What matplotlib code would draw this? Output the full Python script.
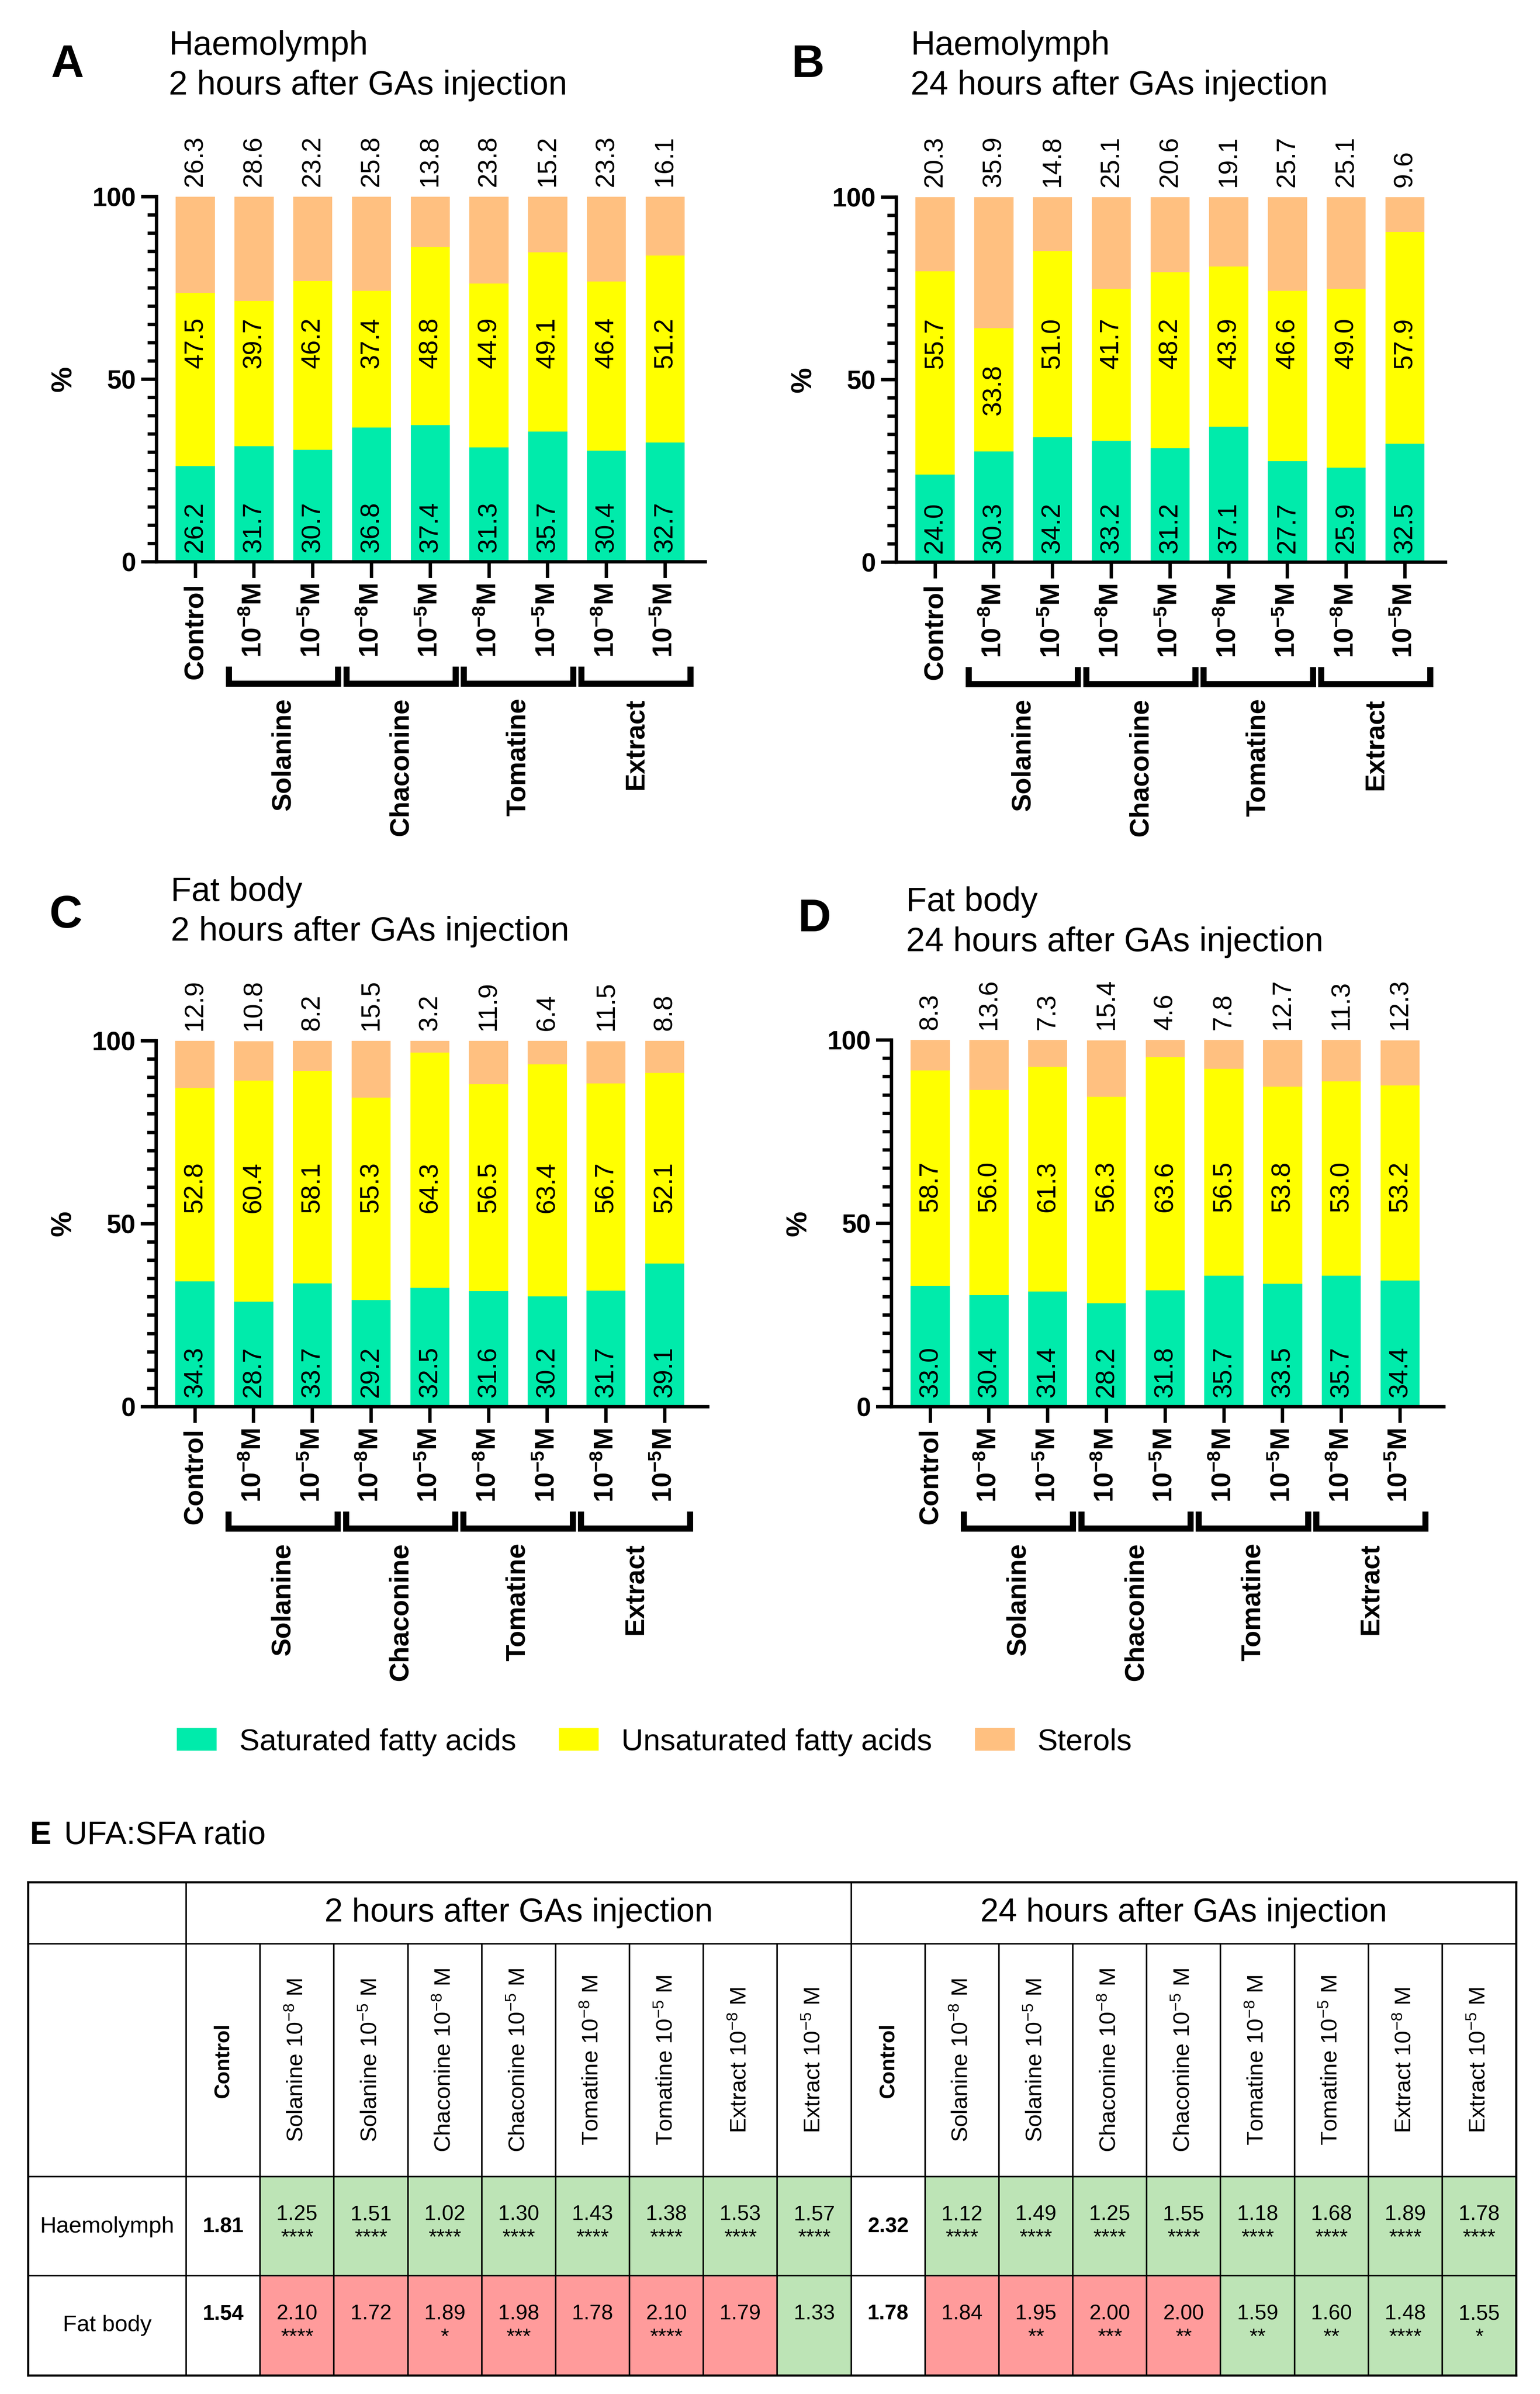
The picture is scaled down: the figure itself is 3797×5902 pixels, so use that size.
import numpy as np
import matplotlib
matplotlib.use('Agg')
import matplotlib.pyplot as plt
from matplotlib.patches import Patch, Rectangle
from matplotlib.ticker import MultipleLocator
from matplotlib.transforms import blended_transform_factory

plt.rcParams['font.family'] = 'Liberation Sans'
plt.rcParams['mathtext.fontset'] = 'custom'
plt.rcParams['mathtext.rm'] = 'Liberation Sans'
plt.rcParams['mathtext.bf'] = 'Liberation Sans:bold'
plt.rcParams['mathtext.it'] = 'Liberation Sans:italic'

# --- DATA ---
tick_labels = ['Control'] + [r'$\mathbf{10^{-8}M}$', r'$\mathbf{10^{-5}M}$'] * 4
groups = ['Solanine', 'Chaconine', 'Tomatine', 'Extract']

# A: haemolymph, 2 h
sfa_a = [26.2, 31.7, 30.7, 36.8, 37.4, 31.3, 35.7, 30.4, 32.7]
ufa_a = [47.5, 39.7, 46.2, 37.4, 48.8, 44.9, 49.1, 46.4, 51.2]
ster_a = [26.3, 28.6, 23.2, 25.8, 13.8, 23.8, 15.2, 23.3, 16.1]
# B: haemolymph, 24 h
sfa_b = [24.0, 30.3, 34.2, 33.2, 31.2, 37.1, 27.7, 25.9, 32.5]
ufa_b = [55.7, 33.8, 51.0, 41.7, 48.2, 43.9, 46.6, 49.0, 57.9]
ster_b = [20.3, 35.9, 14.8, 25.1, 20.6, 19.1, 25.7, 25.1, 9.6]
# C: fat body, 2 h
sfa_c = [34.3, 28.7, 33.7, 29.2, 32.5, 31.6, 30.2, 31.7, 39.1]
ufa_c = [52.8, 60.4, 58.1, 55.3, 64.3, 56.5, 63.4, 56.7, 52.1]
ster_c = [12.9, 10.8, 8.2, 15.5, 3.2, 11.9, 6.4, 11.5, 8.8]
# D: fat body, 24 h
sfa_d = [33.0, 30.4, 31.4, 28.2, 31.8, 35.7, 33.5, 35.7, 34.4]
ufa_d = [58.7, 56.0, 61.3, 56.3, 63.6, 56.5, 53.8, 53.0, 53.2]
ster_d = [8.3, 13.6, 7.3, 15.4, 4.6, 7.8, 12.7, 11.3, 12.3]

# E: UFA:SFA ratio table
table_treatments = ['Solanine', 'Solanine', 'Chaconine', 'Chaconine',
                    'Tomatine', 'Tomatine', 'Extract', 'Extract']
table_doses = ['-8', '-5'] * 4
times = ['2 hours after GAs injection', '24 hours after GAs injection']
tissues = ['Haemolymph', 'Fat body']
ctrl_haemo = [1.81, 2.32]
ctrl_fat = [1.54, 1.78]
ratio_haemo_2h = [1.25, 1.51, 1.02, 1.30, 1.43, 1.38, 1.53, 1.57]
stars_haemo_2h = ['****'] * 8
ratio_haemo_24h = [1.12, 1.49, 1.25, 1.55, 1.18, 1.68, 1.89, 1.78]
stars_haemo_24h = ['****'] * 8
ratio_fat_2h = [2.10, 1.72, 1.89, 1.98, 1.78, 2.10, 1.79, 1.33]
stars_fat_2h = ['****', '', '*', '***', '', '****', '', '']
ratio_fat_24h = [1.84, 1.95, 2.00, 2.00, 1.59, 1.60, 1.48, 1.55]
stars_fat_24h = ['', '**', '***', '**', '**', '**', '****', '*']

C_SFA = '#00EBAB'
C_UFA = '#FFFF00'
C_STER = '#FFC080'
C_LOW = '#BDE4B6'
C_HIGH = '#FF9B9B'

# --- FIGURE (layout in pixel units of the 3797x5902 canvas) ---
W, H = 3797, 5902
DPI = 300
fig = plt.figure(figsize=(W / DPI, H / DPI), dpi=DPI)


def fx(px):
    return px / W


def fy(py):
    return 1 - py / H


BAR_STEP = 144.8  # px between bar centres


def draw_panel(box, sfa, ufa, ster):
    left, top, right, bottom = box
    ax = fig.add_axes([fx(left), fy(bottom), (right - left) / W, (bottom - top) / H])
    hpx = bottom - top
    x = np.arange(len(sfa))
    sfa = np.array(sfa)
    ufa = np.array(ufa)
    ster = np.array(ster)
    ax.bar(x, sfa, width=0.665, color=C_SFA, zorder=2)
    ax.bar(x, ufa, bottom=sfa, width=0.665, color=C_UFA, zorder=2)
    ax.bar(x, ster, bottom=sfa + ufa, width=0.665, color=C_STER, zorder=2)

    for i in range(len(x)):
        ax.text(x[i], 2.5, f'{sfa[i]:.1f}', rotation=90, ha='center', va='bottom', fontsize=15.5, zorder=3)
        top_u = sfa[i] + ufa[i]
        yu = 60 if top_u >= 68 else sfa[i] + ufa[i] / 2
        ax.text(x[i], yu, f'{ufa[i]:.1f}', rotation=90, ha='center', va='center', fontsize=15.5, zorder=3)
        ax.text(x[i], 102.8, f'{ster[i]:.1f}', rotation=90, ha='center', va='bottom', fontsize=15.5,
                clip_on=False)

    ax.set_ylim(0, 100)
    ax.set_xlim(-0.66, -0.66 + (right - left) / BAR_STEP)
    for s in ['top', 'right']:
        ax.spines[s].set_visible(False)
    for s in ['left', 'bottom']:
        ax.spines[s].set_linewidth(2)
        ax.spines[s].set_zorder(4)
    ax.spines['left'].set_bounds(0, 100)

    ax.set_yticks([0, 50, 100])
    ax.set_yticklabels(['0', '50', '100'], fontweight='bold', fontsize=15.5)
    ax.yaxis.set_minor_locator(MultipleLocator(5))
    ax.tick_params(axis='y', which='major', length=9.2, width=2, pad=3)
    ax.tick_params(axis='y', which='minor', length=5.2, width=2)
    ax.set_xticks(x)
    ax.set_xticklabels(tick_labels, rotation=90, fontweight='bold', fontsize=16)
    ax.tick_params(axis='x', length=9.6, width=2, pad=3.2)

    ax.text(-228 / (right - left), 0.5, '%', transform=ax.transAxes, rotation=90,
            ha='center', va='center', fontsize=17, fontweight='bold')

    trans = blended_transform_factory(ax.transData, ax.transAxes)
    yt = -258 / hpx
    yb = -300 / hpx
    for g, name in enumerate(groups):
        xa = 1 + 2 * g - 0.43
        xb = 2 + 2 * g + 0.43
        ax.plot([xa, xa, xb, xb], [yt, yb, yb, yt], transform=trans, clip_on=False,
                color='black', lw=3.6, solid_joinstyle='miter', solid_capstyle='butt')
        ax.text(1.5 + 2 * g, -336 / hpx, name, transform=trans, rotation=90,
                ha='center', va='top', fontsize=16, fontweight='bold')
    return ax


panels = [
    ('A', (125, 190), (416, 135, 233), ('Haemolymph', times[0]), (386, 485, 1739, 1385), sfa_a, ufa_a, ster_a),
    ('B', (1952, 190), (2245, 135, 233), ('Haemolymph', times[1]), (2210, 486, 3564, 1386), sfa_b, ufa_b, ster_b),
    ('C', (121, 2287), (421, 2221, 2319), ('Fat body', times[0]), (385, 2566, 1745, 3468), sfa_c, ufa_c, ster_c),
    ('D', (1967, 2296), (2234, 2246, 2345), ('Fat body', times[1]), (2198, 2564, 3560, 3468), sfa_d, ufa_d, ster_d),
]

for letter, lpos, tpos, ttl, box, s1, s2, s3 in panels:
    draw_panel(box, s1, s2, s3)
    fig.text(fx(lpos[0]), fy(lpos[1]), letter, fontsize=27, fontweight='bold', ha='left', va='baseline')
    fig.text(fx(tpos[0]), fy(tpos[1]), ttl[0], fontsize=20, ha='left', va='baseline')
    fig.text(fx(tpos[0]), fy(tpos[2]), ttl[1], fontsize=20, ha='left', va='baseline')

# legend
handles = [Patch(color=C_SFA, label='Saturated fatty acids'),
           Patch(color=C_UFA, label='Unsaturated fatty acids'),
           Patch(color=C_STER, label='Sterols')]
fig.legend(handles=handles, loc='center left', bbox_to_anchor=(fx(438), fy(4295)), ncol=3,
           frameon=False, fontsize=18, handlelength=1.25, handleheight=0.68,
           handletextpad=0.77, columnspacing=1.44, borderpad=0, borderaxespad=0)

# --- TABLE E ---
fig.text(fx(74), fy(4546), 'E', fontsize=19, fontweight='bold', ha='left', va='baseline')
fig.text(fx(158), fy(4546), 'UFA:SFA ratio', fontsize=19, ha='left', va='baseline')

axt = fig.add_axes([0, 0, 1, 1], zorder=-1)
axt.set_xlim(0, W)
axt.set_ylim(H, 0)
axt.axis('off')

x_left, x_first, x_right = 69, 459, 3738
col_w = (x_right - x_first) / 18
rows_y = [4640, 4792, 5366, 5610, 5856]

value_rows = [
    (ctrl_haemo, [ratio_haemo_2h, ratio_haemo_24h], [stars_haemo_2h, stars_haemo_24h]),
    (ctrl_fat, [ratio_fat_2h, ratio_fat_24h], [stars_fat_2h, stars_fat_24h]),
]
ctrl_y = [5490, 5705]
label_y = [5490, 5733]

for r, (ctrl, ratios, stars) in enumerate(value_rows):
    y0, y1 = rows_y[2 + r], rows_y[3 + r]
    yc = (y0 + y1) / 2
    axt.text((x_left + x_first) / 2, label_y[r], tissues[r], ha='center', va='center', fontsize=13.5)
    for t in range(2):
        xc0 = x_first + 9 * t * col_w
        axt.text(xc0 + col_w / 2, ctrl_y[r], f'{ctrl[t]:.2f}', ha='center', va='center',
                 fontsize=12.5, fontweight='bold')
        for j, v in enumerate(ratios[t]):
            xl = xc0 + (j + 1) * col_w
            color = C_HIGH if v > ctrl[t] else C_LOW
            axt.add_patch(Rectangle((xl, y0), col_w, y1 - y0, facecolor=color, edgecolor='none'))
            axt.text(xl + col_w / 2, yc - 28, f'{v:.2f}', ha='center', va='center', fontsize=12.5)
            if stars[t][j]:
                axt.text(xl + col_w / 2, yc + 30, stars[t][j], ha='center', va='center', fontsize=12.5)

# header texts
for t in range(2):
    xa = x_first + 9 * t * col_w
    axt.text(xa + 4.5 * col_w, (rows_y[0] + rows_y[1]) / 2, times[t], ha='center', va='center', fontsize=19.5)
    ylab = (rows_y[1] + rows_y[2]) / 2
    axt.text(xa + col_w / 2, ylab, 'Control', rotation=90, ha='center', va='center',
             fontsize=12.5, fontweight='bold')
    for j in range(8):
        lab = f'{table_treatments[j]} 10$^{{{table_doses[j].replace("-", chr(8722))}}}$ M'
        axt.text(xa + (j + 1.5) * col_w, ylab, lab, rotation=90, ha='center', va='center', fontsize=13.5)

# grid lines
lw_in, lw_out = 0.9, 1.3
for y in rows_y:
    lw = lw_out if y in (rows_y[0], rows_y[-1]) else lw_in
    axt.plot([x_left, x_right], [y, y], color='black', lw=lw, solid_capstyle='projecting')
for xv in [x_left, x_right]:
    axt.plot([xv, xv], [rows_y[0], rows_y[-1]], color='black', lw=lw_out)
for xv in [x_first, x_first + 9 * col_w]:
    axt.plot([xv, xv], [rows_y[0], rows_y[-1]], color='black', lw=lw_in)
for k in range(1, 18):
    if k == 9:
        continue
    xv = x_first + k * col_w
    axt.plot([xv, xv], [rows_y[1], rows_y[-1]], color='black', lw=lw_in)

fig.savefig('out.png', dpi=DPI)
